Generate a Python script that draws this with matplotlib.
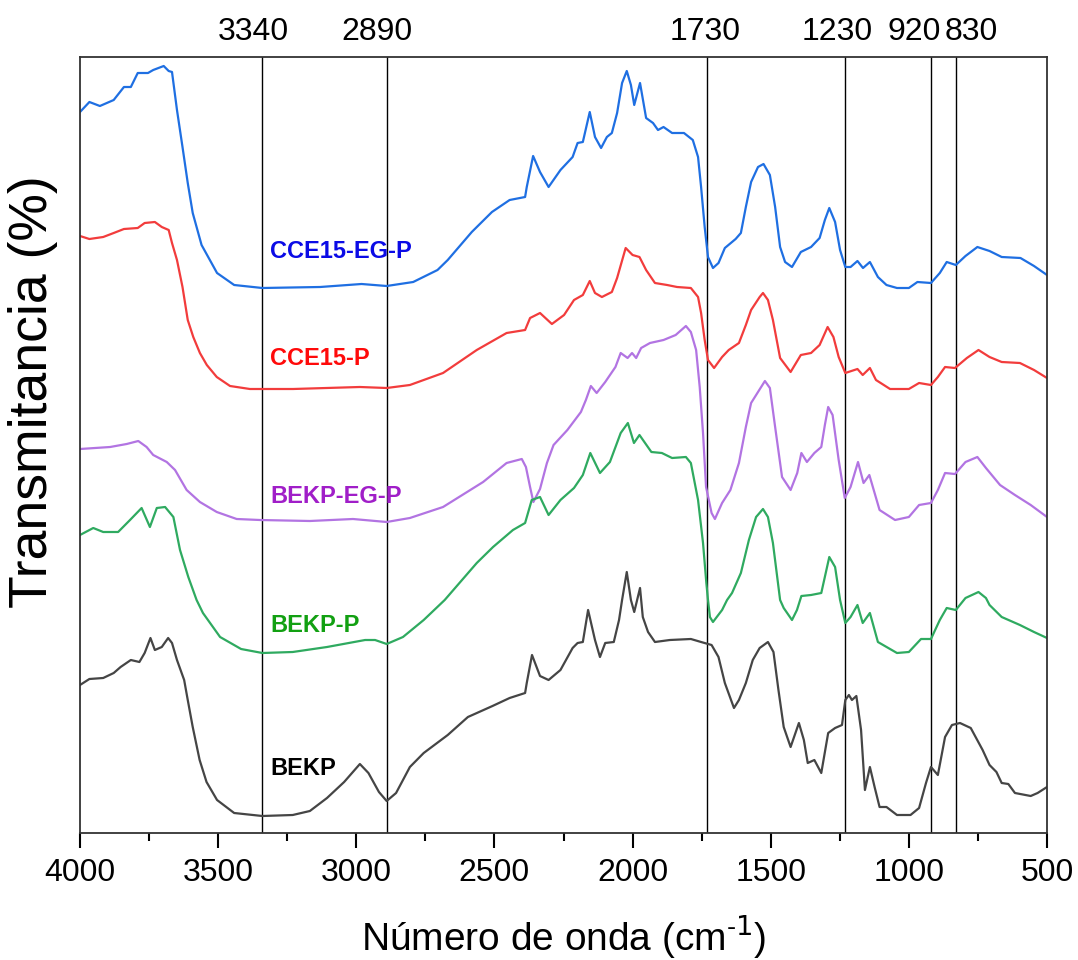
import matplotlib
matplotlib.use("Agg")
import matplotlib.pyplot as plt
import matplotlib.transforms as mtransforms
from matplotlib.ticker import MultipleLocator

plt.rcParams['font.family'] = ['Liberation Sans', 'DejaVu Sans']

# Spectra: wavenumber (cm-1) and offset transmittance (arb. units)
cce15_eg_p_x = [4000, 3966, 3928, 3878, 3841, 3816, 3791, 3754, 3735, 3697, 3679, 3667, 3649, 3629,
                3610, 3592, 3560, 3504, 3442, 3340, 3131, 2981, 2890, 2794, 2706, 2669, 2582, 2509,
                2445, 2389, 2383, 2360, 2335, 2304, 2261, 2217, 2199, 2180, 2155, 2136, 2114, 2093,
                2075, 2056, 2038, 2021, 2006, 1994, 1973, 1951, 1926, 1908, 1888, 1857, 1814, 1782,
                1763, 1752, 1739, 1727, 1709, 1689, 1666, 1627, 1608, 1590, 1571, 1546, 1526, 1503,
                1484, 1466, 1448, 1423, 1391, 1354, 1323, 1304, 1288, 1267, 1249, 1230, 1211, 1186,
                1166, 1141, 1112, 1081, 1043, 1000, 969, 920, 888, 863, 830, 795, 752, 708, 664,
                596, 547, 500]
cce15_eg_p_y = [721, 731, 727, 733, 746, 746, 760, 760, 763, 767, 762, 761, 723, 686,
                650, 620, 588, 560, 548, 545, 546, 549, 547, 551, 563, 573, 601, 621,
                633, 636, 646, 677, 661, 646, 663, 676, 690, 691, 721, 696, 685, 696,
                700, 720, 750, 762, 748, 728, 750, 715, 710, 703, 706, 700, 700, 693,
                676, 646, 606, 576, 565, 570, 585, 594, 600, 626, 651, 666, 669, 658,
                626, 586, 571, 566, 581, 586, 595, 613, 625, 611, 583, 566, 566, 572,
                565, 571, 556, 548, 545, 545, 551, 550, 560, 571, 568, 577, 586, 582, 576,
                575, 567, 558]

cce15_p_x = [4000, 3966, 3916, 3878, 3841, 3791, 3766, 3729, 3704, 3679, 3667, 3649, 3629, 3610,
             3590, 3566, 3541, 3505, 3457, 3385, 3229, 2987, 2890, 2806, 2686, 2564, 2456, 2389,
             2371, 2335, 2292, 2248, 2212, 2180, 2155, 2136, 2111, 2075, 2056, 2025, 2000, 1975,
             1951, 1919, 1875, 1839, 1789, 1763, 1752, 1739, 1727, 1705, 1676, 1652, 1615, 1590,
             1571, 1540, 1528, 1510, 1492, 1466, 1428, 1391, 1354, 1323, 1294, 1273, 1254, 1230,
             1186, 1167, 1141, 1119, 1068, 1000, 963, 920, 895, 869, 833, 790, 748, 708, 664,
             598, 547, 500]
cce15_p_y = [597, 594, 596, 600, 604, 605, 610, 611, 606, 603, 590, 573, 546, 513,
             496, 480, 468, 456, 447, 444, 444, 446, 445, 448, 460, 483, 500, 503,
             515, 520, 509, 518, 533, 538, 552, 540, 536, 541, 555, 585, 578, 576,
             563, 550, 548, 546, 545, 536, 520, 493, 473, 465, 476, 483, 490, 508,
             523, 536, 540, 533, 513, 475, 461, 478, 480, 488, 506, 496, 476, 460,
             464, 458, 465, 453, 444, 444, 450, 448, 456, 466, 465, 475, 483, 476, 471,
             470, 463, 455]

bekp_eg_p_x = [4000, 3891, 3831, 3789, 3759, 3735, 3686, 3656, 3614, 3566, 3505, 3433, 3349, 3168,
               3012, 2890, 2806, 2686, 2541, 2456, 2401, 2386, 2371, 2359, 2335, 2310, 2286, 2236,
               2187, 2169, 2151, 2130, 2099, 2062, 2043, 2018, 2002, 1987, 1969, 1937, 1888, 1844,
               1807, 1789, 1770, 1757, 1745, 1734, 1714, 1702, 1676, 1646, 1615, 1590, 1571, 1546,
               1521, 1503, 1484, 1459, 1428, 1404, 1389, 1369, 1342, 1317, 1304, 1292, 1276, 1254,
               1232, 1211, 1184, 1164, 1143, 1124, 1106, 1050, 1000, 963, 920, 895, 869, 833, 795,
               752, 721, 670, 616, 559, 500]
bekp_eg_p_y = [384, 386, 389, 392, 386, 378, 371, 363, 343, 331, 321, 314, 313, 312,
               314, 311, 315, 326, 351, 370, 374, 366, 346, 331, 344, 370, 388, 403,
               421, 433, 447, 440, 451, 466, 480, 475, 480, 475, 485, 490, 493, 498,
               507, 501, 483, 446, 400, 346, 320, 314, 330, 343, 370, 406, 430, 441,
               452, 445, 406, 356, 343, 360, 380, 371, 380, 386, 408, 426, 418, 373,
               335, 346, 371, 350, 358, 340, 323, 313, 316, 328, 330, 343, 360, 359, 371,
               376, 365, 348, 338, 328, 316]

bekp_p_x = [4000, 3952, 3916, 3862, 3819, 3777, 3747, 3722, 3692, 3662, 3638, 3608, 3578, 3555,
            3493, 3417, 3340, 3230, 3106, 2968, 2932, 2890, 2831, 2756, 2680, 2564, 2505, 2433,
            2389, 2365, 2335, 2304, 2261, 2212, 2180, 2153, 2118, 2082, 2043, 2017, 1995, 1975,
            1932, 1894, 1857, 1807, 1789, 1763, 1745, 1733, 1727, 1720, 1709, 1676, 1658, 1640,
            1608, 1579, 1553, 1528, 1510, 1492, 1466, 1453, 1423, 1405, 1389, 1354, 1317, 1288,
            1267, 1249, 1230, 1211, 1186, 1167, 1141, 1112, 1043, 1000, 956, 920, 888, 863, 830,
            795, 748, 721, 708, 664, 598, 547, 500]
bekp_p_y = [298, 305, 301, 301, 313, 325, 306, 325, 326, 316, 283, 256, 233, 220,
            196, 184, 180, 181, 186, 193, 193, 189, 196, 213, 233, 270, 286, 303,
            310, 333, 336, 318, 333, 345, 358, 380, 360, 371, 400, 410, 390, 398,
            381, 380, 375, 376, 370, 333, 290, 250, 233, 216, 211, 223, 233, 240,
            260, 293, 316, 324, 316, 290, 233, 225, 213, 223, 237, 238, 240, 276,
            266, 233, 210, 216, 228, 210, 220, 191, 180, 181, 194, 194, 213, 225, 223,
            235, 241, 235, 228, 216, 208, 201, 195]

bekp_x = [4000, 3966, 3916, 3878, 3853, 3816, 3785, 3766, 3745, 3729, 3704, 3681, 3667, 3649,
          3623, 3610, 3592, 3567, 3542, 3504, 3442, 3340, 3230, 3168, 3106, 3044, 2987, 2956,
          2918, 2890, 2856, 2806, 2756, 2669, 2596, 2507, 2445, 2389, 2383, 2364, 2335, 2304,
          2261, 2217, 2199, 2180, 2161, 2136, 2118, 2099, 2068, 2049, 2038, 2021, 2006, 1994,
          1973, 1963, 1944, 1919, 1865, 1789, 1752, 1714, 1689, 1666, 1633, 1615, 1590, 1565,
          1540, 1510, 1490, 1472, 1453, 1428, 1398, 1380, 1366, 1342, 1317, 1292, 1267, 1242,
          1230, 1217, 1206, 1190, 1173, 1159, 1141, 1124, 1106, 1081, 1043, 994, 963, 938, 920,
          895, 869, 844, 815, 776, 733, 708, 683, 664, 640, 616, 559, 534, 500]
bekp_y = [148, 154, 155, 160, 166, 173, 171, 180, 195, 183, 186, 195, 190, 173,
          153, 133, 106, 73, 51, 33, 20, 17, 18, 22, 35, 51, 69, 60,
          41, 32, 40, 66, 80, 98, 116, 127, 135, 140, 150, 178, 157, 153,
          163, 185, 190, 191, 223, 193, 176, 190, 191, 213, 233, 261, 233, 221,
          245, 216, 201, 191, 193, 194, 191, 188, 176, 150, 125, 133, 150, 173,
          185, 191, 181, 143, 106, 86, 110, 93, 70, 73, 60, 100, 105, 108,
          133, 138, 133, 137, 103, 43, 66, 46, 26, 26, 18, 18, 25, 50, 66,
          58, 96, 108, 110, 105, 83, 68, 61, 50, 49, 40, 37, 40, 46]

series = [
    (cce15_eg_p_x, cce15_eg_p_y, '#1f6fe2', 'CCE15-EG-P', '#0b0be6', 575),
    (cce15_p_x, cce15_p_y, '#f23c3c', 'CCE15-P', '#ff0a0a', 468),
    (bekp_eg_p_x, bekp_eg_p_y, '#b274e2', 'BEKP-EG-P', '#a01ec8', 330),
    (bekp_p_x, bekp_p_y, '#2faa60', 'BEKP-P', '#12a012', 201),
    (bekp_x, bekp_y, '#454545', 'BEKP', '#000000', 58),
]
label_x = 3312

# Marked bands and where their labels sit
band_lines = [3340, 2890, 1730, 1230, 920, 830]
band_labels = ['3340', '2890', '1730', '1230', '920', '830']
band_label_x = [3374, 2925, 1736, 1258, 981, 773]

fig = plt.figure(figsize=(10.78, 9.6), dpi=100)
ax = fig.add_axes([80 / 1078, 1 - 833 / 960, 967 / 1078, 776 / 960])

for xs, ys, col, name, tcol, ty in series:
    ax.plot(xs, ys, color=col, linewidth=1.6)
    ax.text(label_x, ty, name, color=tcol, fontsize=17, fontweight='bold',
            ha='left', va='baseline')

for b in band_lines:
    ax.axvline(b, color='black', linewidth=1.0, zorder=0)

trans = mtransforms.blended_transform_factory(ax.transData, ax.transAxes)
for lx, lab in zip(band_label_x, band_labels):
    ax.text(lx, 1.022, lab, transform=trans, fontsize=23, ha='center', va='baseline')

ax.set_xlim(4000, 500)
ax.set_ylim(0, 776)
ax.xaxis.set_major_locator(MultipleLocator(500))
ax.xaxis.set_minor_locator(MultipleLocator(250))
ax.tick_params(axis='x', which='major', direction='out', length=11, width=1.5,
               labelsize=23, pad=7)
ax.tick_params(axis='x', which='minor', direction='out', length=6, width=1.5)
ax.set_yticks([])
for sp in ax.spines.values():
    sp.set_color('#333333')
    sp.set_linewidth(1.3)

fig.text(33 / 1078, 1 - 392 / 960, 'Transmitancia (%)', rotation=90, fontsize=38.5,
         ha='center', va='center')
fig.text(563.5 / 1078, 1 - 950 / 960, 'Número de onda (cm$^{\\mathregular{\u2010}1}$)',
         fontsize=28, ha='center', va='baseline')

fig.savefig('out.png', dpi=100)
